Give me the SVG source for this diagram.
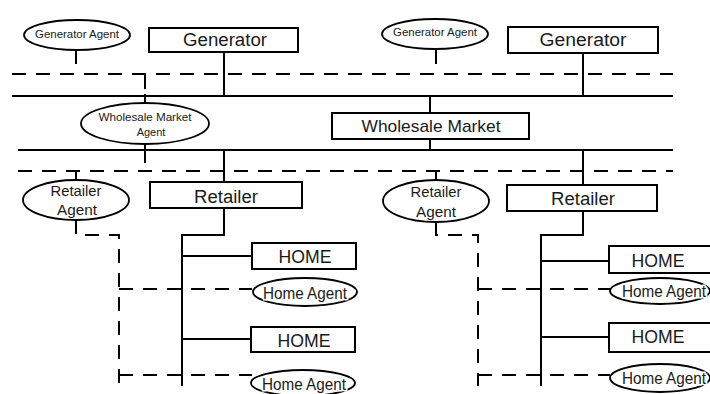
<svg xmlns="http://www.w3.org/2000/svg" width="710" height="394" viewBox="0 0 710 394">
<style>
.box{fill:#fff;stroke:#000;stroke-width:2}
.ell{fill:#fff;stroke:#000;stroke-width:1.8}
.s{fill:none;stroke:#000;stroke-width:2}
.d{fill:none;stroke:#000;stroke-width:2;stroke-dasharray:14 10}
text{font-family:"Liberation Sans",Arial,sans-serif;fill:#1a1a1a;text-anchor:middle}
.t17{font-size:18px}
.t16{font-size:17px}
.t14{font-size:15px}
.t15{font-size:16px;paint-order:stroke;stroke:#fff;stroke-width:3px}
.t10{font-size:10px}
.t11{font-size:11px}
</style>
<rect width="710" height="394" fill="#fff"/>
<g id="connectors">
  <line class="d" x1="12" y1="74" x2="673" y2="74"/>
  <line class="s" x1="12" y1="96" x2="673" y2="96"/>
  <line class="s" x1="18" y1="150" x2="673" y2="150"/>
  <line class="d" x1="18" y1="171" x2="673" y2="171"/>
  <line class="s" x1="76" y1="50" x2="76" y2="64"/>
  <line class="s" x1="436" y1="50" x2="436" y2="64"/>
  <line class="s" x1="224" y1="52" x2="224" y2="96"/>
  <line class="s" x1="583" y1="53" x2="583" y2="96"/>
  <line class="s" x1="430" y1="96" x2="430" y2="113"/>
  <line class="s" x1="430" y1="139" x2="430" y2="150"/>
  <line class="s" x1="145" y1="74" x2="145" y2="89"/>
  <line class="s" x1="145" y1="94" x2="145" y2="103"/>
  <line class="s" x1="145" y1="144" x2="145" y2="163"/>
  <line class="s" x1="76" y1="171" x2="76" y2="180"/>
  <line class="s" x1="436" y1="171" x2="436" y2="179"/>
  <line class="s" x1="224" y1="150" x2="224" y2="182"/>
  <line class="s" x1="583" y1="150" x2="583" y2="185"/>
  <polyline class="s" points="224,208 224,235 182,235 182,386"/>
  <line class="s" x1="182" y1="256" x2="252" y2="256"/>
  <line class="s" x1="182" y1="339" x2="251" y2="339"/>
  <polyline class="d" points="76,220 76,235 119,235 119,386"/>
  <line class="d" x1="119" y1="289" x2="252" y2="289"/>
  <line class="d" x1="119" y1="375" x2="252" y2="375"/>
  <polyline class="s" points="583,211 583,235 541,235 541,386"/>
  <line class="s" x1="541" y1="261" x2="609" y2="261"/>
  <line class="s" x1="541" y1="337" x2="609" y2="337"/>
  <polyline class="d" points="436,223 436,235 478,235 478,386"/>
  <line class="d" x1="478" y1="289" x2="610" y2="289"/>
  <line class="d" x1="478" y1="375" x2="610" y2="375"/>
</g>
<g id="generator-agent-1"><ellipse class="ell" cx="77" cy="35" rx="53" ry="15"/><text class="t10" x="77" y="38" textLength="84" lengthAdjust="spacingAndGlyphs">Generator Agent</text></g>
<g id="generator-1"><rect class="box" x="149" y="28" width="149" height="24"/><text class="t17" x="225" y="46" textLength="84" lengthAdjust="spacingAndGlyphs">Generator</text></g>
<g id="generator-agent-2"><ellipse class="ell" cx="435" cy="34" rx="53" ry="15"/><text class="t10" x="435" y="36" textLength="84" lengthAdjust="spacingAndGlyphs">Generator Agent</text></g>
<g id="generator-2"><rect class="box" x="508" y="27" width="150" height="26"/><text class="t17" x="583" y="46" textLength="87" lengthAdjust="spacingAndGlyphs">Generator</text></g>
<g id="wholesale-market-agent"><ellipse class="ell" cx="145" cy="123.5" rx="64" ry="20.5"/><text class="t11" x="145" y="121" textLength="93" lengthAdjust="spacingAndGlyphs">Wholesale Market</text><text class="t11" x="151" y="136">Agent</text></g>
<g id="wholesale-market"><rect class="box" x="332" y="113" width="197" height="26"/><text class="t16" x="431" y="132" textLength="139" lengthAdjust="spacingAndGlyphs">Wholesale Market</text></g>
<g id="retailer-agent-1"><ellipse class="ell" cx="76" cy="200" rx="53" ry="20"/><text class="t14" x="76" y="196" textLength="51" lengthAdjust="spacingAndGlyphs">Retailer</text><text class="t14" x="77" y="215" textLength="40" lengthAdjust="spacingAndGlyphs">Agent</text></g>
<g id="retailer-1"><rect class="box" x="150" y="182" width="152" height="26"/><text class="t17" x="226" y="203" textLength="64" lengthAdjust="spacingAndGlyphs">Retailer</text></g>
<g id="retailer-agent-2"><ellipse class="ell" cx="436" cy="201" rx="53" ry="21"/><text class="t14" x="436" y="197" textLength="51" lengthAdjust="spacingAndGlyphs">Retailer</text><text class="t14" x="436" y="217" textLength="40" lengthAdjust="spacingAndGlyphs">Agent</text></g>
<g id="retailer-2"><rect class="box" x="507" y="185" width="150" height="26"/><text class="t17" x="583" y="205" textLength="64" lengthAdjust="spacingAndGlyphs">Retailer</text></g>
<g id="home-1"><rect class="box" x="252" y="243" width="104" height="26"/><text class="t17" x="305" y="263" textLength="53" lengthAdjust="spacingAndGlyphs">HOME</text></g>
<g id="home-agent-1"><ellipse class="ell" cx="305" cy="292" rx="52" ry="14"/><text class="t15" x="305" y="299" textLength="84" lengthAdjust="spacingAndGlyphs">Home Agent</text></g>
<g id="home-2"><rect class="box" x="251" y="327" width="104" height="25"/><text class="t17" x="304" y="347" textLength="53" lengthAdjust="spacingAndGlyphs">HOME</text></g>
<g id="home-agent-2"><ellipse class="ell" cx="303" cy="383" rx="52" ry="13"/><text class="t15" x="304" y="390" textLength="84" lengthAdjust="spacingAndGlyphs">Home Agent</text></g>
<g id="home-3"><rect class="box" x="609" y="246" width="104" height="27"/><text class="t17" x="658" y="267" textLength="53" lengthAdjust="spacingAndGlyphs">HOME</text></g>
<g id="home-agent-3"><ellipse class="ell" cx="660" cy="291" rx="50" ry="13"/><text class="t15" x="664" y="297" textLength="84" lengthAdjust="spacingAndGlyphs">Home Agent</text></g>
<g id="home-4"><rect class="box" x="609" y="323" width="104" height="29"/><text class="t17" x="658" y="343" textLength="53" lengthAdjust="spacingAndGlyphs">HOME</text></g>
<g id="home-agent-4"><ellipse class="ell" cx="660" cy="378" rx="50" ry="14"/><text class="t15" x="664" y="384" textLength="84" lengthAdjust="spacingAndGlyphs">Home Agent</text></g>
</svg>
